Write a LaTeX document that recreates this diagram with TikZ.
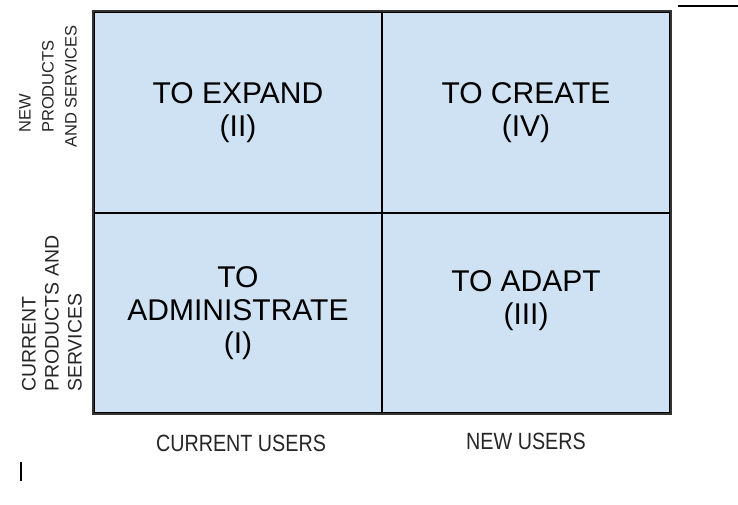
\documentclass[tikz,border=0pt]{standalone}
\usepackage{fontspec}
\setmainfont{Liberation Sans}
\newfontfamily\narrowsans[FakeStretch=0.84]{Liberation Sans}
\usetikzlibrary{positioning}
\definecolor{cellblue}{HTML}{CFE2F3}
\tikzstyle{cell} = [draw=black, fill=cellblue, line width=1.8pt, minimum width=288pt, minimum height=200.5pt, inner sep=0pt]
\tikzstyle{strategy} = [inner sep=0pt, align=center, font=\fontsize{30}{33}\selectfont]
\tikzstyle{axis} = [text=black!85, inner sep=0pt, align=left, rotate=90, anchor=west]
\tikzstyle{users} = [text=black!85, inner sep=0pt, anchor=base, font=\narrowsans\fontsize{23.5}{26}\selectfont]

\begin{document}
\begin{tikzpicture}[x=1pt, y=1pt]
    \useasboundingbox (0,0) rectangle (738,505);
    % Draw the four cells.
    \node [cell] (expand) at (238, 392.5) {};
    \node [cell] (create) at (526, 392.5) {};
    \node [cell] (admin)  at (238, 192)   {};
    \node [cell] (adapt)  at (526, 192)   {};
    \draw [line width=2.2pt, black!80] (expand.north west) rectangle (adapt.south east);
    % Strategy in each cell.
    \node [strategy] (expandtext) at (expand.center) {TO EXPAND\\(II)};
    \node [strategy] (createtext) at (create.center) {TO CREATE\\(IV)};
    \node [strategy] (admintext)  at (admin.center)  {TO\\ADMINISTRATE\\(I)};
    \node [strategy, yshift=12pt] (adapttext) at (adapt.center) {TO ADAPT\\(III)};
    % Rows.
    \node [axis, font=\fontsize{16.5}{23}\selectfont] (newprod) at (48, 357) {\hspace*{15pt}NEW\\\hspace*{15pt}PRODUCTS\\AND SERVICES};
    \node [axis, font=\fontsize{19.5}{23}\selectfont] (curprod) at (52, 113) {CURRENT\\PRODUCTS AND\\SERVICES};
    % Columns.
    \node [users] (curusers) at (241, 53) {CURRENT USERS};
    \node [users] (newusers) at (526, 55) {NEW USERS};
    % Rule and cursor.
    \coordinate (rulea) at (678, 499);
    \coordinate (ruleb) at (738, 499);
    \draw [line width=2.5pt] (rulea) -- (ruleb);
    \coordinate (cursora) at (21, 43);
    \coordinate (cursorb) at (21, 24);
    \draw [line width=1.2pt] (cursora) -- (cursorb);
\end{tikzpicture}
\end{document}
